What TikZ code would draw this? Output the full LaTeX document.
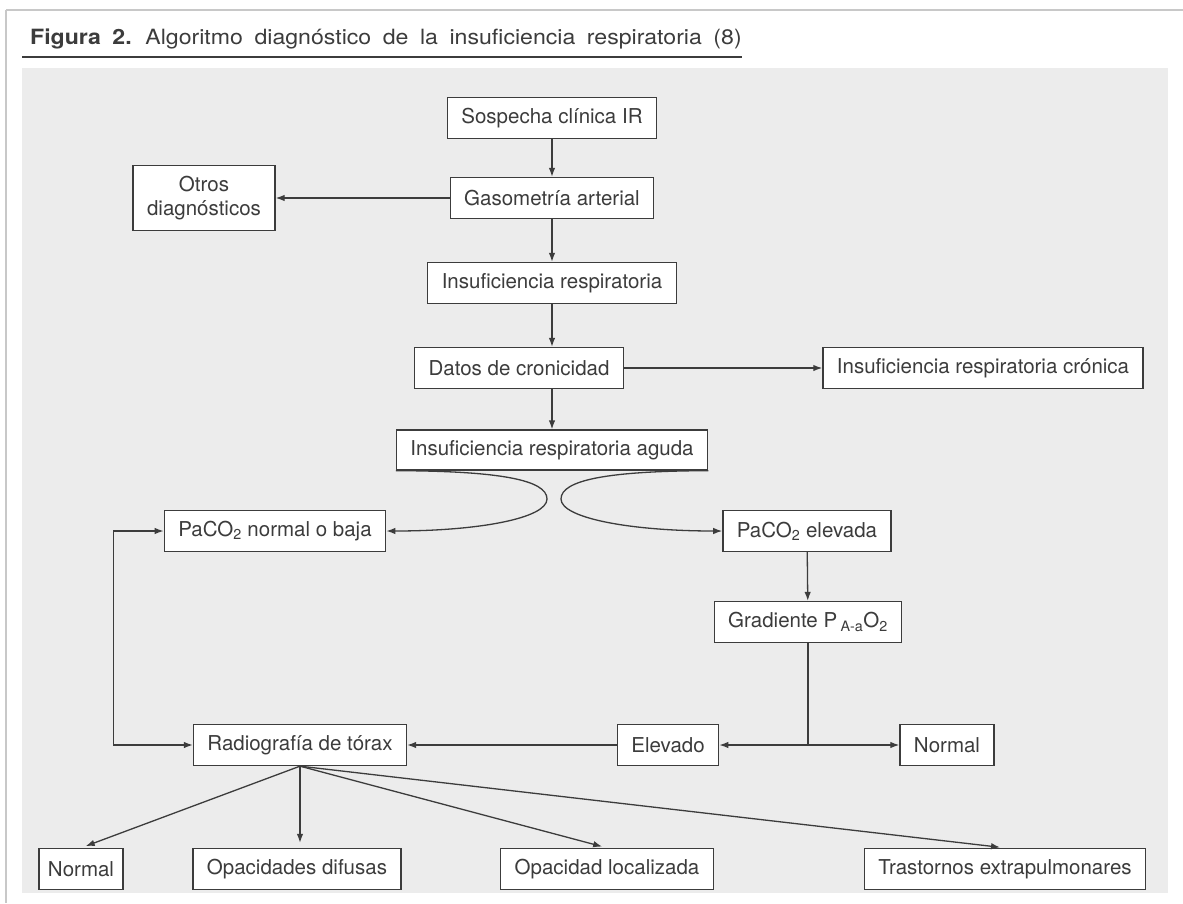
\documentclass[tikz,border=0pt]{standalone}
\usepackage{fontspec}
\setmainfont{TeX Gyre Heros}
\newfontfamily\titlefont[FakeStretch=1.1,WordSpace=1.8]{TeX Gyre Heros}
\usetikzlibrary{arrows.meta}
\definecolor{panelgray}{HTML}{ECECEC}
\definecolor{inkgray}{HTML}{3C3C3C}
\definecolor{framegray}{HTML}{C8C8C8}

\begin{document}
\begin{tikzpicture}[x=1pt,y=-1pt,
  box/.style={draw=inkgray,fill=white,line width=1.3pt,inner xsep=14pt,minimum height=41pt,text=inkgray,font=\fontsize{20.5}{24}\selectfont},
  link/.style={draw=inkgray,line width=1.3pt},
  arr/.style={link,-{Latex[length=9pt,width=6.5pt]}}]
\useasboundingbox (0,0) rectangle (1183,903);
\fill[white] (0,0) rectangle (1183,903);
\draw[framegray,line width=2.5pt] (6,10) -- (1183,10);
\draw[framegray,line width=2pt] (6,10) -- (6,903);
\fill[panelgray] (22,68) rectangle (1168,893);
\node[anchor=base west,inner sep=0,text=inkgray,font=\titlefont\fontsize{21}{25}\selectfont] (title) at (30,44) {\textbf{Figura 2.} Algoritmo diagnóstico de la insuficiencia respiratoria (8)};
\coordinate (ul) at (22,57);
\draw[inkgray,line width=2pt] (ul) -- (ul -| title.east);
\node[box] (sosp) at (552,118) {Sospecha clínica IR};
\node[box] (gaso) at (552,198) {Gasometría arterial};
\node[box,align=center,minimum width=142pt,minimum height=65pt] (otros) at (204,198) {Otros\\diagnósticos};
\node[box] (ir) at (552,283) {Insuficiencia respiratoria};
\node[box] (datos) at (519,368) {Datos de cronicidad};
\node[box] (irc) at (983,368) {Insuficiencia respiratoria crónica};
\node[box,minimum height=40pt] (ira) at (552,450) {Insuficiencia respiratoria aguda};
\node[box] (pnorm) at (275,531) {PaCO\textsubscript{2} normal o baja};
\node[box] (pelev) at (807,531) {PaCO\textsubscript{2} elevada};
\node[box] (grad) at (808,622) {Gradiente P\,\textsubscript{A-a}O\textsubscript{2}};
\node[box] (rx) at (300,745) {Radiografía de tórax};
\node[box] (elev) at (668,745) {Elevado};
\node[box] (normr) at (947,745) {Normal};
\node[box,inner xsep=9pt] (nor) at (81,869) {Normal};
\node[box] (opd) at (297,869) {Opacidades difusas};
\node[box] (opl) at (607,869) {Opacidad localizada};
\node[box] (tex) at (1005,869) {Trastornos extrapulmonares};
\draw[arr] (sosp) -- (gaso);
\draw[arr] (gaso) -- (otros);
\draw[arr] (gaso) -- (ir);
\draw[arr] (ir) -- (ir |- datos.north);
\draw[arr] (datos) -- (irc);
\draw[arr] (ir |- datos.south) -- (ira);
\coordinate (lbend) at (547,499);
\coordinate (rbend) at (561,499);
\draw[arr] (ira.south west) .. controls (500,471) and (547,480) .. (lbend) .. controls (547,518) and (480,531) .. (pnorm.east);
\draw[arr] (ira.south east) .. controls (608,471) and (561,480) .. (rbend) .. controls (561,518) and (630,531) .. (pelev.west);
\draw[arr] (pelev) -- (grad);
\coordinate (split) at (grad.south |- elev);
\draw[link] (grad) -- (split);
\draw[arr] (split) -- (elev);
\draw[arr] (split) -- (normr);
\draw[arr] (elev) -- (rx);
\draw[link,{Latex[length=9pt,width=6.5pt]}-{Latex[length=9pt,width=6.5pt]}] (pnorm.west) -- ++(-50,0) |- (rx.west);
\draw[arr,shorten >=5pt] (rx.south) -- (nor.north);
\draw[arr,shorten >=5pt] (rx.south) -- (rx.south |- opd.north);
\draw[arr,shorten >=5pt] (rx.south) -- (opl.north);
\draw[arr,shorten >=5pt] (rx.south) -- (tex.north);
\end{tikzpicture}
\end{document}
